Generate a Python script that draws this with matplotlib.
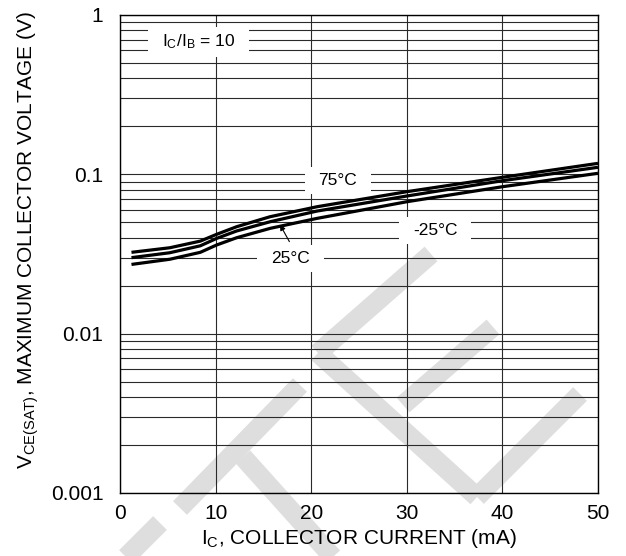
import matplotlib
matplotlib.use("Agg")
import matplotlib.pyplot as plt
from matplotlib.lines import Line2D
from matplotlib.patches import Rectangle
from matplotlib.ticker import FixedLocator, NullFormatter, LogLocator
from matplotlib.transforms import IdentityTransform

plt.rcParams["font.family"] = ["Liberation Sans", "DejaVu Sans"]
plt.rcParams["mathtext.fontset"] = "custom"
plt.rcParams["mathtext.rm"] = "Liberation Sans"
plt.rcParams["mathtext.it"] = "Liberation Sans:italic"

# collector current (mA) and VCE(sat) (V)
ic_ma = [1.2, 5.2, 8.4, 10.1, 12.2, 15.7, 20.6, 30, 40, 50]
vce_75 = [0.0324, 0.0346, 0.0381, 0.0420, 0.0469, 0.0542, 0.0626, 0.0778, 0.0958, 0.1172]
vce_25 = [0.0300, 0.0322, 0.0356, 0.0396, 0.0441, 0.0504, 0.0588, 0.0731, 0.0912, 0.1107]
vce_m25 = [0.0272, 0.0293, 0.0324, 0.0360, 0.0400, 0.0458, 0.0529, 0.0673, 0.0836, 0.1015]

x_ticks = [0, 10, 20, 30, 40, 50]
y_ticks = [0.001, 0.01, 0.1, 1]
y_tick_labels = ["0.001", "0.01", "0.1", "1"]

W, H = 626, 556
fig = plt.figure(figsize=(W / 100, H / 100), dpi=100, facecolor="white")
ax = fig.add_axes([120 / W, 1 - 493 / H, 478 / W, 478 / H])
ax.set_facecolor("none")

# light grey watermark strokes behind everything (image pixel coords)
wm_strokes = [
    [(123, 560), (160, 523)],
    [(180, 508), (300, 385)],
    [(243, 457), (340, 565)],
    [(431, 254), (318, 353)],
    [(318, 353), (477, 497)],
    [(493, 327), (403, 405)],
    [(477, 497), (580, 394)],
]
for s in wm_strokes:
    xs = [p[0] / W for p in s]
    ys = [1 - p[1] / H for p in s]
    fig.add_artist(Line2D(xs, ys, transform=fig.transFigure, color="#dedede",
                          lw=14, solid_capstyle="butt", zorder=-5))

ax.set_yscale("log")
ax.set_xlim(0, 50)
ax.set_ylim(0.001, 1)

for v in (vce_75, vce_25, vce_m25):
    ax.plot(ic_ma, v, color="black", lw=2.3, zorder=2, solid_capstyle="butt")

ax.xaxis.set_major_locator(FixedLocator(x_ticks))
ax.yaxis.set_major_locator(FixedLocator(y_ticks))
ax.set_yticklabels(y_tick_labels)
ax.yaxis.set_minor_locator(LogLocator(base=10, subs=range(2, 10)))
ax.yaxis.set_minor_formatter(NullFormatter())
ax.set_axisbelow(True)
ax.grid(True, which="both", axis="y", color="#2a2a2a", lw=0.8)
ax.grid(True, which="major", axis="x", color="#2a2a2a", lw=0.8)
ax.tick_params(which="both", length=0, labelsize=15)
ax.tick_params(axis="x", pad=8)
ax.tick_params(axis="y", pad=12)
for sp in ax.spines.values():
    sp.set_linewidth(1.0)

ax.set_xlabel(r"I$_\mathrm{C}$, COLLECTOR CURRENT (mA)", fontsize=15, labelpad=3)
ax.set_ylabel(r"V$_\mathrm{CE(SAT)}$, MAXIMUM COLLECTOR VOLTAGE (V)", fontsize=15)
ax.yaxis.set_label_coords(-0.165, 0.53)

labels = [
    (8.26, 0.677, r"I$_\mathrm{C}$/I$_\mathrm{B}$ = 10"),
    (22.8, 0.0912, "75°C"),
    (32.95, 0.0447, "-25°C"),
    (17.8, 0.0297, "25°C"),
]
texts = []
for x, y, s in labels:
    texts.append(ax.text(x, y, s, ha="center", va="center", fontsize=12.5, zorder=4))

ax.annotate("", xy=(16.6, 0.050), xytext=(17.86, 0.0365),
            arrowprops=dict(arrowstyle="-|>", lw=0.8, color="black", mutation_scale=8),
            zorder=5)

# white boxes behind the labels, cutting the grid
fig.canvas.draw()
for t in texts:
    bb = t.get_window_extent()
    dx, dy = 14, 6
    ax.add_artist(Rectangle((bb.x0 - dx, bb.y0 - dy), bb.width + 2 * dx, bb.height + 2 * dy,
                            transform=IdentityTransform(), facecolor="white",
                            edgecolor="none", zorder=3))

fig.savefig("out.png", dpi=100)
